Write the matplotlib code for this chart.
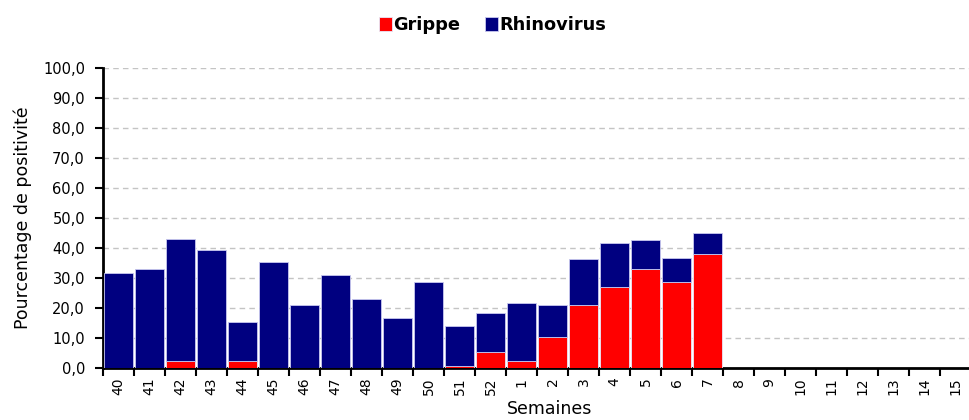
import numpy as np
import matplotlib
matplotlib.use("Agg")
import matplotlib.pyplot as plt
from matplotlib.ticker import FuncFormatter, MultipleLocator

semaines = ["40", "41", "42", "43", "44", "45", "46", "47", "48", "49", "50", "51", "52",
            "1", "2", "3", "4", "5", "6", "7", "8", "9", "10", "11", "12", "13", "14", "15"]
# pourcentages (semaines 8 a 15 sans donnees)
grippe = [0, 0, 2.2, 0, 2.2, 0, 0, 0, 0, 0, 0, 0.8, 5.3,
          2.2, 10.3, 21.1, 26.9, 33.1, 28.7, 38.1, 0, 0, 0, 0, 0, 0, 0, 0]
rhinovirus = [31.8, 33.1, 40.9, 39.4, 13.1, 35.4, 21.1, 31.1, 23.0, 16.7, 28.6, 13.3, 13.1,
              19.5, 10.8, 15.1, 14.9, 9.5, 8.1, 6.9, 0, 0, 0, 0, 0, 0, 0, 0]

plt.rcParams['font.family'] = ['DejaVu Sans']

fig = plt.figure(figsize=(9.69, 4.2), dpi=100)
ax = fig.add_axes([103 / 969, 1 - 368 / 420, 868 / 969, 300 / 420])

x = np.arange(len(semaines))
ax.bar(x, grippe, width=0.93, color="#FF0000", edgecolor="#E8E8F8", linewidth=0.6,
       label="Grippe", zorder=3)
ax.bar(x, rhinovirus, width=0.93, bottom=grippe, color="#000080", edgecolor="#C8C8F0",
       linewidth=0.6, label="Rhinovirus", zorder=3)

ax.set_xlim(-0.5, len(semaines) - 0.5)
ax.set_ylim(0, 100)
ax.yaxis.set_major_locator(MultipleLocator(10))
ax.yaxis.set_major_formatter(FuncFormatter(lambda v, p: f"{v:.1f}".replace(".", ",")))
ax.grid(axis="y", color="#C4C4C4", linestyle=(0, (4, 3)), linewidth=1, zorder=0)

ax.set_xticks(x)
ax.set_xticklabels(semaines, rotation=90)
ax.set_xticks(np.arange(-0.5, len(semaines)), minor=True)
ax.tick_params(axis="x", which="major", length=0, pad=7, labelsize=10)
ax.tick_params(axis="x", which="minor", length=6, width=1.5, color="black")
ax.tick_params(axis="y", length=6, width=1.5, labelsize=10.5, pad=7)

for s in ["top", "right"]:
    ax.spines[s].set_visible(False)
for s in ["left", "bottom"]:
    ax.spines[s].set_linewidth(2)

ax.set_ylabel("Pourcentage de positivité", fontsize=12.5, labelpad=8)
ax.set_xlabel("Semaines", fontsize=12.5)
ax.xaxis.set_label_coords(0.514, -0.108)

leg = fig.legend(loc="center", bbox_to_anchor=(0.508, 0.94), ncol=2, frameon=False,
                 handlelength=0.75, handleheight=0.75, handletextpad=0.05, columnspacing=1.4,
                 prop={"weight": "bold", "size": 12.8})

fig.savefig("out.png", dpi=100)
